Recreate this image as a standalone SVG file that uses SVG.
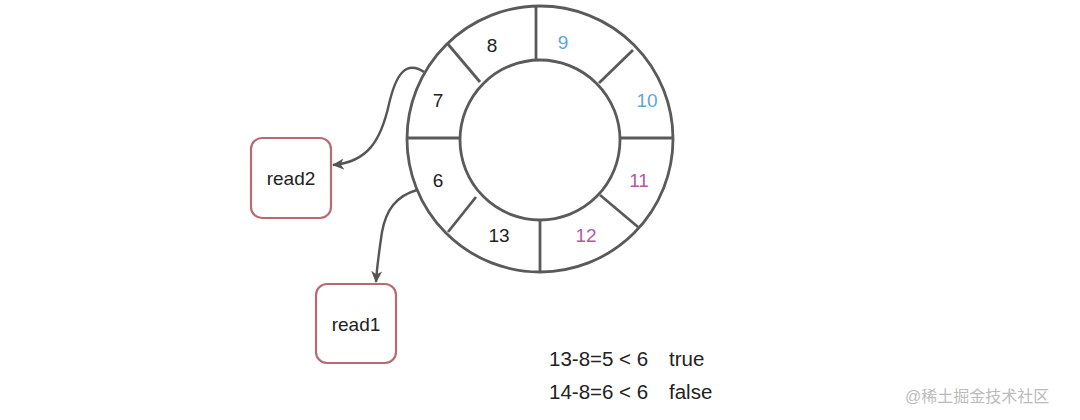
<svg xmlns="http://www.w3.org/2000/svg" width="1080" height="420" viewBox="0 0 1080 420">
<defs>
<style>
.ring{fill:none;stroke:#5a5a5a;stroke-width:2.8}
.lbl{font-family:"Helvetica","Liberation Sans",Arial,sans-serif;font-size:19px;text-anchor:middle;dominant-baseline:central;fill:#222}
.blue{fill:#5aa7d8}
.purple{fill:#b25a9e}
.box{fill:#fff;stroke:#b86a72;stroke-width:2.2}
.conn{fill:none;stroke:#555;stroke-width:2.4}
.eq{font-family:"Liberation Sans",Arial,sans-serif;font-size:20.5px;fill:#222}
.wm{font-family:"Liberation Sans","Noto Sans CJK SC",sans-serif;font-size:16px;fill:#bbb}
</style>
<marker id="arr" markerWidth="13" markerHeight="11" refX="11" refY="5.5" orient="auto" markerUnits="userSpaceOnUse">
<path d="M0,0 L12,5.5 L0,11 L3.5,5.5 Z" fill="#555"/>
</marker>
</defs>
<rect width="1080" height="420" fill="#fff"/>
<g id="ring">
<circle class="ring" cx="540" cy="139" r="133"/>
<circle class="ring" cx="540" cy="140" r="80"/>
<line class="ring" x1="536" y1="5" x2="536" y2="60"/>
<line class="ring" x1="540" y1="220" x2="540" y2="273"/>
<line class="ring" x1="407" y1="138" x2="460" y2="138"/>
<line class="ring" x1="620" y1="138" x2="673" y2="138"/>
<line class="ring" x1="447" y1="43" x2="480" y2="82"/>
<line class="ring" x1="633" y1="50" x2="599" y2="83"/>
<line class="ring" x1="600" y1="195" x2="638" y2="227"/>
<line class="ring" x1="476" y1="197" x2="448" y2="232"/>
</g>
<g id="slot-8"><text class="lbl" x="492" y="45">8</text></g>
<g id="slot-9"><text class="lbl blue" x="563" y="42">9</text></g>
<g id="slot-10"><text class="lbl blue" x="647" y="100">10</text></g>
<g id="slot-7"><text class="lbl" x="438" y="100">7</text></g>
<g id="slot-6"><text class="lbl" x="438" y="180">6</text></g>
<g id="slot-11"><text class="lbl purple" x="639" y="180">11</text></g>
<g id="slot-13"><text class="lbl" x="499" y="235">13</text></g>
<g id="slot-12"><text class="lbl purple" x="586" y="235">12</text></g>
<g id="read2">
<rect class="box" x="251" y="138" width="80" height="80" rx="11"/>
<text class="lbl" x="291" y="178">read2</text>
</g>
<g id="read1">
<rect class="box" x="316" y="284" width="80" height="79" rx="11"/>
<text class="lbl" x="356" y="324">read1</text>
</g>
<g id="connectors">
<path class="conn" marker-end="url(#arr)" d="M424,72 C406,60 396,74 389,104 C381,140 368,162 333,165"/>
<path class="conn" marker-end="url(#arr)" d="M417,190 C396,196 386,210 382,232 C379,252 377,266 376,282"/>
</g>
<g id="equations">
<text class="eq" x="549" y="366">13-8=5 &lt; 6</text>
<text class="eq" x="669" y="366">true</text>
<text class="eq" x="549" y="399">14-8=6 &lt; 6</text>
<text class="eq" x="669" y="399">false</text>
</g>
<text class="wm" x="905" y="402">@稀土掘金技术社区</text>
</svg>
